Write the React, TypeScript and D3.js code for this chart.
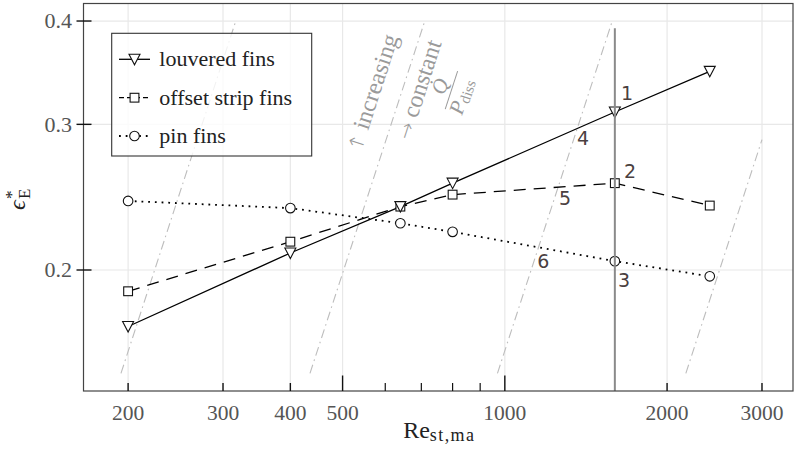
import React from "react";
import * as d3 from "d3";

const W = 794;
const H = 459;

// Data (Re_st,ma vs eps*_E)
const reValues = [200, 400, 640, 800, 1600, 2400];
const louvered = [0.1709, 0.2097, 0.2386, 0.2547, 0.3105, 0.3477];
const offsetStrip = [0.1885, 0.2164, 0.2386, 0.2467, 0.2547, 0.2393];
const pinFins = [0.2424, 0.2376, 0.2278, 0.2224, 0.205, 0.1965];

const seriesNames = ["louvered fins", "offset strip fins", "pin fins"];

const xTicks = [200, 300, 400, 500, 1000, 2000, 3000];
const xTickLabels = ["200", "300", "400", "500", "1000", "2000", "3000"];
const xTallTicks = [500, 1000];
const xMinorTicks = [600, 700, 800, 900];
const yTicks = [0.2, 0.3, 0.4];
const yTickLabels = ["0.2", "0.3", "0.4"];

// lines of constant Q/P_diss (eps ~ Re^2): Re where each crosses eps = 0.15
const isoRe0 = [194, 435, 969, 2167];
const isoEpsLow = 0.15;
const isoEpsHigh = 0.4;
const isoReMax = 3000;

const markerRe = 1600;
const markerEpsTop = 0.392;

const numLabels = ["1", "2", "3", "4", "5", "6"];
const numLabelRe = [1686, 1708, 1665, 1397, 1294, 1178];
const numLabelEps = [0.3275, 0.2635, 0.1945, 0.2889, 0.2444, 0.2051];

const serif = "'Liberation Serif', 'Times New Roman', serif";
const sans = "'DejaVu Sans', 'Open Sans', sans-serif";

const left = 83.5;
const right = 793;
const top = 3.5;
const bottom = 391;

const x = d3.scaleLog().domain([165.3, 3425]).range([left, right]);
const y = d3.scaleLog().domain([0.1428, 0.42]).range([bottom, top]);

function Marker({ kind, cx, cy }: { kind: string; cx: number; cy: number }) {
  if (kind === "tri") {
    const p = d3.path();
    p.moveTo(cx - 5.5, cy - 5);
    p.lineTo(cx + 5.5, cy - 5);
    p.lineTo(cx, cy + 5.5);
    p.closePath();
    return <path d={p.toString()} fill="white" stroke="#111" strokeWidth={1.1} />;
  }
  if (kind === "sq") {
    return <rect x={cx - 4.4} y={cy - 4.4} width={8.8} height={8.8} fill="white" stroke="#111" strokeWidth={1.1} />;
  }
  return <circle cx={cx} cy={cy} r={4.8} fill="white" stroke="#111" strokeWidth={1.1} />;
}

export default function App() {
  const line = d3
    .line<number>()
    .x((_, i) => x(reValues[i]))
    .y((d) => y(d));

  const seriesData = [louvered, offsetStrip, pinFins];
  const seriesKinds = ["tri", "sq", "circ"];
  const seriesDash = ["none", "12,8", "1.8,4.9"];
  const seriesWidth = [1.3, 1.3, 1.8];
  const drawOrder = [2, 1, 0];

  const isoLines = isoRe0.map((re0) => {
    let reHigh = re0 * Math.sqrt(isoEpsHigh / isoEpsLow);
    let epsHigh = isoEpsHigh;
    if (reHigh > isoReMax) {
      reHigh = isoReMax;
      epsHigh = isoEpsLow * Math.pow(isoReMax / re0, 2);
    }
    return { x1: x(re0), y1: y(isoEpsLow), x2: x(reHigh), y2: y(epsHigh) };
  });

  const l0 = isoLines[0];
  const angle = (Math.atan2(l0.y2 - l0.y1, l0.x2 - l0.x1) * 180) / Math.PI;

  const annoGray = "#9a9a9a";

  const legendX = 111.7;
  const legendY = 33.3;
  const legendW = 200;
  const legendH = 122.7;
  const legendRows = [59.3, 97.7, 136];

  return (
    <div style={{ position: "fixed", left: 0, top: 0 }}>
      <svg width={W} height={H} viewBox={`0 0 ${W} ${H}`} style={{ display: "block", background: "white" }}>
        {/* grid */}
        {xTicks.map((t) => (
          <line key={"gx" + t} x1={x(t)} x2={x(t)} y1={top} y2={bottom} stroke="#e8e8e8" strokeWidth={1.2} />
        ))}
        {yTicks.map((t) => (
          <line key={"gy" + t} x1={left} x2={right} y1={y(t)} y2={y(t)} stroke="#e8e8e8" strokeWidth={1.2} />
        ))}

        {/* iso lines */}
        {isoLines.map((l, i) => (
          <line
            key={"iso" + i}
            x1={l.x1}
            y1={l.y1}
            x2={l.x2}
            y2={l.y2}
            stroke="#bdbdbd"
            strokeWidth={1.1}
            strokeDasharray="9,4,1.6,4"
          />
        ))}

        {/* annotation */}
        <text
          transform={`translate(${x(586)},${y(0.3256)}) rotate(${angle})`}
          textAnchor="middle"
          fontFamily={serif}
          fontSize={24}
          fill={annoGray}
        >
          <tspan fontFamily="'DejaVu Sans', sans-serif" fontWeight={200} fontSize={20}>↑</tspan> increasing
        </text>
        <text
          transform={`translate(${x(714)},${y(0.3284)}) rotate(${angle})`}
          textAnchor="middle"
          fontFamily={serif}
          fontSize={24}
          fill={annoGray}
        >
          <tspan fontFamily="'DejaVu Sans', sans-serif" fontWeight={200} fontSize={20}>→</tspan> constant
        </text>
        <g transform={`translate(${x(796)},${y(0.33)}) rotate(${angle})`}>
          <text x={0} y={-5} textAnchor="middle" fontFamily={serif} fontStyle="italic" fontSize={21} fill={annoGray}>
            Q̇
          </text>
          <line x1={-20} x2={20} y1={0} y2={0} stroke={annoGray} strokeWidth={1} />
          <text x={-3} y={18} textAnchor="middle" fontFamily={serif} fill={annoGray}>
            <tspan fontStyle="italic" fontSize={21}>P</tspan>
            <tspan fontSize={15} dy={3}>diss</tspan>
          </text>
        </g>

        {/* series lines */}
        {drawOrder.map((si) => (
          <path
            key={"ln" + si}
            d={line(seriesData[si]) || ""}
            fill="none"
            stroke="#000"
            strokeWidth={seriesWidth[si]}
            strokeDasharray={seriesDash[si]}
          />
        ))}
        {/* markers */}
        {drawOrder.map((si) =>
          seriesData[si].map((v, i) => (
            <Marker key={"m" + si + "-" + i} kind={seriesKinds[si]} cx={x(reValues[i])} cy={y(v)} />
          ))
        )}

        {/* vertical marker line */}
        <line
          x1={x(markerRe)}
          x2={x(markerRe)}
          y1={y(markerEpsTop)}
          y2={bottom}
          stroke="#8a8a8a"
          strokeWidth={2}
        />

        {/* number labels */}
        {numLabels.map((t, i) => (
          <text
            key={"nl" + t}
            x={x(numLabelRe[i])}
            y={y(numLabelEps[i])}
            dy="0.36em"
            textAnchor="middle"
            fontFamily={sans}
            fontSize={19}
            fill="#4a4040"
          >
            {t}
          </text>
        ))}

        {/* frame */}
        <rect x={left} y={top} width={right - left} height={bottom - top} fill="none" stroke="#444" strokeWidth={1.2} />

        {/* x ticks */}
        {xTicks.map((t) => (
          <line
            key={"xt" + t}
            x1={x(t)}
            x2={x(t)}
            y1={bottom}
            y2={bottom - (xTallTicks.includes(t) ? 15.5 : 8)}
            stroke="#111"
            strokeWidth={1.4}
          />
        ))}
        {xMinorTicks.map((t) => (
          <line key={"xm" + t} x1={x(t)} x2={x(t)} y1={bottom} y2={bottom - 8} stroke="#111" strokeWidth={1.2} />
        ))}
        {xTicks.map((t, i) => (
          <text
            key={"xl" + t}
            x={x(t)}
            y={420}
            textAnchor="middle"
            fontFamily={serif}
            fontSize={21.5}
            fill="#555"
          >
            {xTickLabels[i]}
          </text>
        ))}

        {/* y ticks */}
        {yTicks.map((t, i) => (
          <g key={"yt" + t}>
            <line x1={left - 7} x2={left + 8} y1={y(t)} y2={y(t)} stroke="#111" strokeWidth={1.4} />
            <text
              x={72}
              y={y(t)}
              dy="0.33em"
              textAnchor="end"
              fontFamily={serif}
              fontSize={22}
              fill="#555"
            >
              {yTickLabels[i]}
            </text>
          </g>
        ))}

        {/* axis titles */}
        <text x={(left + right) / 2 + 1} y={437.5} textAnchor="middle" fontFamily={serif} fill="#222">
          <tspan fontSize={24}>Re</tspan>
          <tspan fontSize={18} dy={3.5} letterSpacing={1.4}>st,ma</tspan>
        </text>
        <g transform="translate(25,210) rotate(-90)" fontFamily={serif} fill="#222">
          <text x={0} y={0} fontSize={24} fontStyle="italic">ϵ</text>
          <text x={11} y={-8} fontSize={17}>*</text>
          <text x={11} y={5} fontSize={17}>E</text>
        </g>

        {/* legend */}
        <rect
          x={legendX}
          y={legendY}
          width={legendW}
          height={legendH}
          fill="white"
          fillOpacity={0.8}
          stroke="#333"
          strokeWidth={1.1}
        />
        {seriesNames.map((name, i) => (
          <g key={"lg" + i}>
            <line
              x1={119}
              x2={150}
              y1={legendRows[i]}
              y2={legendRows[i]}
              stroke="#000"
              strokeWidth={seriesWidth[i]}
              strokeDasharray={seriesDash[i] === "none" ? "none" : i === 1 ? "5,3" : "1.8,4.9"}
            />
            <Marker kind={seriesKinds[i]} cx={134.5} cy={legendRows[i]} />
            <text x={159.3} y={legendRows[i]} dy="0.32em" fontFamily={serif} fontSize={22} fill="#222">
              {name}
            </text>
          </g>
        ))}
      </svg>
    </div>
  );
}
